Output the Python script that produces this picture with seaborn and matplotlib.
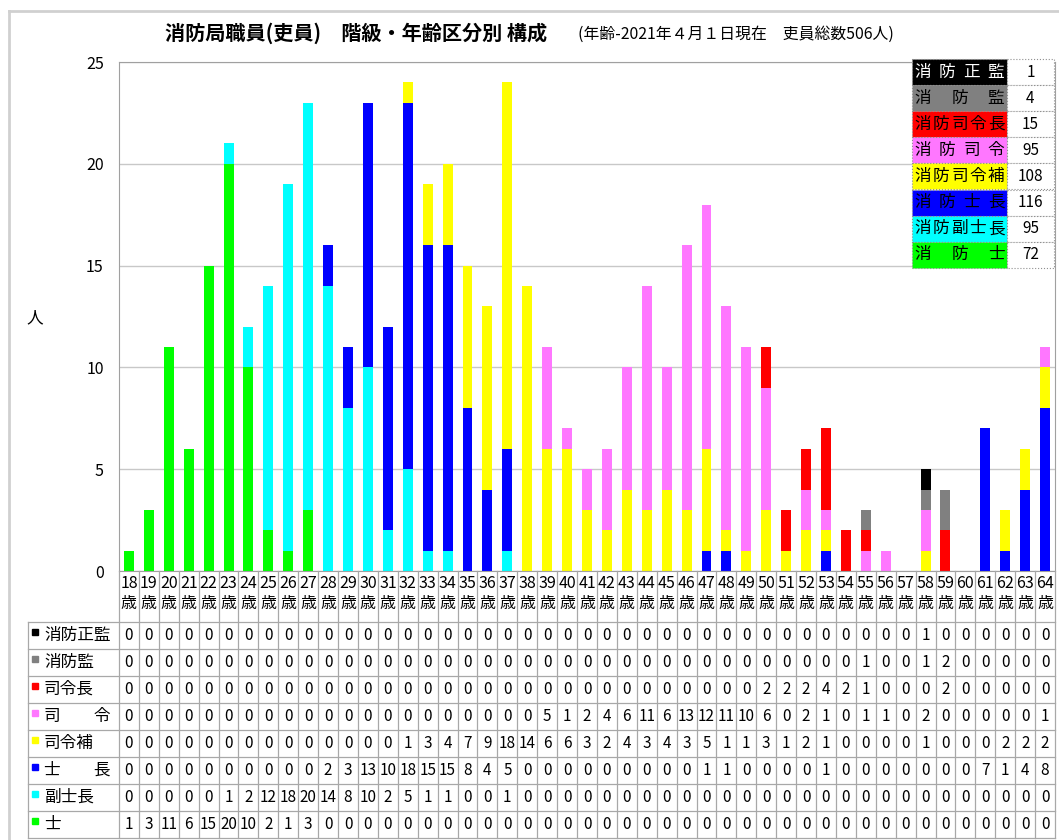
import pandas as pd
import numpy as np
import matplotlib
matplotlib.use("Agg")
import matplotlib.pyplot as plt
import seaborn as sns
from matplotlib.patches import Rectangle

##########################################################
# Data (ages 18 -> 64)

ages = [18, 19, 20, 21, 22, 23, 24, 25, 26, 27,
        28, 29, 30, 31, 32, 33, 34, 35, 36, 37,
        38, 39, 40, 41, 42, 43, 44, 45, 46, 47,
        48, 49, 50, 51, 52, 53, 54, 55, 56, 57,
        58, 59, 60, 61, 62, 63, 64]

seikan = [0, 0, 0, 0, 0, 0, 0, 0, 0, 0,
          0, 0, 0, 0, 0, 0, 0, 0, 0, 0,
          0, 0, 0, 0, 0, 0, 0, 0, 0, 0,
          0, 0, 0, 0, 0, 0, 0, 0, 0, 0,
          1, 0, 0, 0, 0, 0, 0]
kan = [0, 0, 0, 0, 0, 0, 0, 0, 0, 0,
       0, 0, 0, 0, 0, 0, 0, 0, 0, 0,
       0, 0, 0, 0, 0, 0, 0, 0, 0, 0,
       0, 0, 0, 0, 0, 0, 0, 1, 0, 0,
       1, 2, 0, 0, 0, 0, 0]
shireicho = [0, 0, 0, 0, 0, 0, 0, 0, 0, 0,
             0, 0, 0, 0, 0, 0, 0, 0, 0, 0,
             0, 0, 0, 0, 0, 0, 0, 0, 0, 0,
             0, 0, 2, 2, 2, 4, 2, 1, 0, 0,
             0, 2, 0, 0, 0, 0, 0]
shirei = [0, 0, 0, 0, 0, 0, 0, 0, 0, 0,
          0, 0, 0, 0, 0, 0, 0, 0, 0, 0,
          0, 5, 1, 2, 4, 6, 11, 6, 13, 12,
          11, 10, 6, 0, 2, 1, 0, 1, 1, 0,
          2, 0, 0, 0, 0, 0, 1]
shireiho = [0, 0, 0, 0, 0, 0, 0, 0, 0, 0,
            0, 0, 0, 0, 1, 3, 4, 7, 9, 18,
            14, 6, 6, 3, 2, 4, 3, 4, 3, 5,
            1, 1, 3, 1, 2, 1, 0, 0, 0, 0,
            1, 0, 0, 0, 2, 2, 2]
shicho = [0, 0, 0, 0, 0, 0, 0, 0, 0, 0,
          2, 3, 13, 10, 18, 15, 15, 8, 4, 5,
          0, 0, 0, 0, 0, 0, 0, 0, 0, 1,
          1, 0, 0, 0, 0, 1, 0, 0, 0, 0,
          0, 0, 0, 7, 1, 4, 8]
fukushicho = [0, 0, 0, 0, 0, 1, 2, 12, 18, 20,
              14, 8, 10, 2, 5, 1, 1, 0, 0, 1,
              0, 0, 0, 0, 0, 0, 0, 0, 0, 0,
              0, 0, 0, 0, 0, 0, 0, 0, 0, 0,
              0, 0, 0, 0, 0, 0, 0]
shi = [1, 3, 11, 6, 15, 20, 10, 2, 1, 3,
       0, 0, 0, 0, 0, 0, 0, 0, 0, 0,
       0, 0, 0, 0, 0, 0, 0, 0, 0, 0,
       0, 0, 0, 0, 0, 0, 0, 0, 0, 0,
       0, 0, 0, 0, 0, 0, 0]

# table order (top -> bottom)
row_labels = ["消防正監", "消防監", "司令長", "司　　令", "司令補", "士　　長", "副士長", "士"]
legend_names = ["消防正監", "消防監", "消防司令長", "消防司令", "消防司令補", "消防士長", "消防副士長", "消防士"]
series = [seikan, kan, shireicho, shirei, shireiho, shicho, fukushicho, shi]
colors = ["#000000", "#808080", "#FF0000", "#FF77FF", "#FFFF00", "#0000FF", "#00FFFF", "#00FF00"]

##########################################################
# Figure

plt.rcParams['font.family'] = ['Noto Sans CJK JP', 'DejaVu Sans']
W, H = 1059, 840
fig = plt.figure(figsize=(W / 100, H / 100), dpi=100)

x0, x1 = 119, 1055
y_top, y_bot = 62, 571
ax = fig.add_axes([x0 / W, 1 - y_bot / H, (x1 - x0) / W, (y_bot - y_top) / H])

age_lbl = [str(a) for a in ages]
df = pd.DataFrame({name: vals for name, vals in zip(legend_names, series)}, index=age_lbl)
# stacked from bottom (消防士) to top (消防正監)
cum = df[legend_names[::-1]].cumsum(axis=1)

for name, col in zip(legend_names, colors):
    sns.barplot(x=age_lbl, y=cum[name].values, color=col, saturation=1,
                width=0.5, linewidth=0, ax=ax)

ax.set_xlim(-0.5, len(ages) - 0.5)
ax.set_ylim(0, 25)
ax.set_yticks(range(0, 26, 5))
ax.yaxis.grid(True, color="#C8C8C8", linewidth=1)
ax.set_axisbelow(True)
ax.tick_params(axis='y', length=0, pad=11, labelsize=11.5)
ax.set_xticks(range(len(ages)))
ax.set_xticklabels([f"{a}\n歳" for a in ages], fontsize=11.5, linespacing=1.25)
ax.tick_params(axis='x', length=0, pad=3)
ax.set_xlabel("")
ax.set_ylabel("")
for s in ax.spines.values():
    s.set_color("#A0A0A0")

##########################################################
# Overlay : border, title, table, legend box

lay = fig.add_axes([0, 0, 1, 1], facecolor="none")
lay.set_xlim(0, W)
lay.set_ylim(H, 0)
lay.axis("off")

lay.plot([9, 9], [11, H], color="#D0D0D0", lw=2)
lay.plot([9, W], [11, 11], color="#D0D0D0", lw=2)

lay.text(165, 33, "消防局職員(吏員)　階級・年齢区分別 構成", fontsize=14.5,
         fontweight="bold", va="center", ha="left")
lay.text(578, 34, "(年齢-2021年４月１日現在　吏員総数506人)", fontsize=11.4,
         va="center", ha="left")
lay.text(35, 318, "人", fontsize=12, ha="center", va="center")

# data table
colw = (x1 - x0) / len(ages)
tab_top = 622
rowh = 27
tab_bot = tab_top + rowh * len(series)
gcol = "#A8A8A8"
for k in range(len(ages) + 1):
    lay.plot([x0 + k * colw] * 2, [y_bot, tab_bot], color=gcol, lw=0.9)
lay.plot([28, 28], [tab_top, tab_bot], color=gcol, lw=0.9)
for r in range(len(series) + 1):
    lay.plot([28, x1], [tab_top + r * rowh] * 2, color=gcol, lw=0.9)

for r, (lab, vals, col) in enumerate(zip(row_labels, series, colors)):
    yc = tab_top + (r + 0.5) * rowh
    lay.plot(35, yc - 4, marker="s", ms=5, color=col, mec=col)
    lay.text(44, yc, lab, fontsize=12, va="center", ha="left")
    for i, v in enumerate(vals):
        lay.text(x0 + (i + 0.5) * colw, yc, str(v), fontsize=11,
                 va="center", ha="center")

# legend box with totals
lx0, lx1, lx2 = 912, 1007, 1054
ly0, lh = 59, 26.1
for r, (name, vals, col) in enumerate(zip(legend_names, series, colors)):
    yt = ly0 + r * lh
    lay.add_patch(Rectangle((lx0, yt), lx1 - lx0, lh, facecolor=col,
                            edgecolor="#909090", lw=0.8, ls=":"))
    lay.add_patch(Rectangle((lx1, yt), lx2 - lx1, lh, facecolor="white",
                            edgecolor="#909090", lw=0.8, ls=":"))
    cw = 16
    xs = np.linspace(lx0 + 3 + cw / 2, lx1 - 3 - cw / 2, len(name))
    tcol = "white" if col == "#000000" else "black"
    for xc, ch in zip(xs, name):
        lay.text(xc, yt + lh / 2, ch, fontsize=12, color=tcol,
                 ha="center", va="center")
    lay.text((lx1 + lx2) / 2, yt + lh / 2, str(sum(vals)), fontsize=11,
             ha="center", va="center")

fig.savefig("out.png", dpi=100)
